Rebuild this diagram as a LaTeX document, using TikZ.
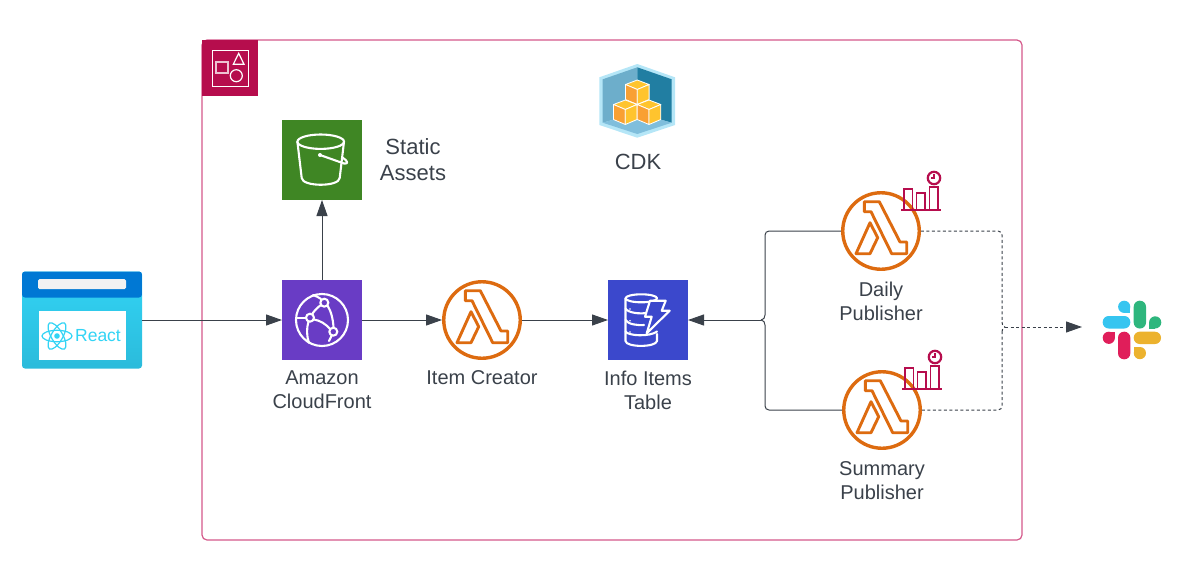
\documentclass[tikz,border=0pt]{standalone}
\usepackage{fontspec}
\setmainfont{Liberation Sans}
\usetikzlibrary{arrows.meta}
\definecolor{textgrey}{HTML}{3A414A}
\definecolor{framepink}{HTML}{D4588A}
\definecolor{tagred}{HTML}{B60D4D}
\definecolor{bucketgreen}{HTML}{3F8624}
\definecolor{frontpurple}{HTML}{693CC5}
\definecolor{tableblue}{HTML}{3B48CC}
\definecolor{lambdaorange}{HTML}{DD6B10}
\definecolor{reactblue}{HTML}{0078D4}
\definecolor{reactcyan}{HTML}{32D4F5}
\definecolor{reactdark}{HTML}{2BBBDB}
\definecolor{cubeyellow}{HTML}{FFC42E}
\definecolor{cubeorange}{HTML}{F9A033}
\definecolor{cdkedge}{HTML}{B5E6F7}
\definecolor{cdkleft}{HTML}{6DAECB}
\definecolor{cdkright}{HTML}{217EA2}
\definecolor{cdkfloor}{HTML}{7FBEDC}
\definecolor{slackblue}{HTML}{36C5F0}
\definecolor{slackgreen}{HTML}{2EB67D}
\definecolor{slackyellow}{HTML}{ECB22E}
\definecolor{slackred}{HTML}{E01E5A}
\tikzstyle{aws box}=[
    inner sep = 0pt,
    outer sep = 0pt,
    minimum size = 80pt
]
\tikzstyle{orange state}=[
    draw = lambdaorange,
    line width = 3.4pt,
    fill = white,
    inner sep = 0pt,
    minimum size = 76.5pt,
    circle
]
\tikzstyle{main text}=[
    text = textgrey,
    align = center,
    font = \fontsize{20}{24}\selectfont
]
\tikzstyle{big text}=[
    text = textgrey,
    align = center,
    font = \fontsize{22}{26}\selectfont
]
\tikzstyle{flow}=[
    draw = textgrey,
    line width = 1pt
]
\tikzstyle{flow tip}=[
    -{Triangle[length=16pt,width=11pt]}
]
\tikzstyle{dotted flow}=[
    draw = textgrey,
    line width = 1pt,
    dash pattern = on 3pt off 2.5pt
]
\tikzstyle{icon line}=[
    draw = white,
    line width = 2.1pt,
    line join = round,
    line cap = round
]
\tikzstyle{schedule line}=[
    draw = tagred,
    line width = 1.8pt
]
% lambda glyph, centred on a node
\newcommand{\lambdaicon}[1]{
    \begin{scope}[shift={(#1.center)}, draw=lambdaorange, line width=2.9pt, line join=round]
        \draw (-16.7,-29.3) -- (-1.7,-29.3) -- (19,11) -- (25.7,11) -- (25.7,22.7) -- (10.7,22.7) -- (-10,-19.3) -- (-16.7,-19.3) -- cycle;
        \draw (-11,-8.3) -- (-25,22.7) -- (-11,22.7) -- (-3.3,6.7) -- cycle;
    \end{scope}
}
% chart with clock, the origin is the left end of its base line
\newcommand{\scheduleicon}[2]{
    \begin{scope}[shift={(#1,#2)}]
        \draw[schedule line, line width=2.2pt] (0,0) -- (40,0);
        \draw[schedule line] (3,0) rectangle (11.5,-21);
        \draw[schedule line] (15.5,0) rectangle (24,-17);
        \draw[schedule line] (28.5,0) rectangle (37,-23);
        \draw[schedule line, line width=2.2pt] (33,-32) circle (6.2pt);
        \draw[schedule line, line width=1.3pt] (33,-36) -- (33,-32) -- (29.5,-32);
    \end{scope}
}
% one yellow block of the stack, the origin is its top corner
\newcommand{\cdkcube}[2]{
    \begin{scope}[shift={(#1,#2)}, draw=white, line width=.8pt, line join=round]
        \filldraw[fill=cubeyellow] (0,0) -- (11.8,4.5) -- (0,9.5) -- (-11.8,4.5) -- cycle;
        \filldraw[fill=cubeorange] (-11.8,4.5) -- (0,9.5) -- (0,24.5) -- (-11.8,19.5) -- cycle;
        \filldraw[fill=cubeyellow] (11.8,4.5) -- (0,9.5) -- (0,24.5) -- (11.8,19.5) -- cycle;
    \end{scope}
}

\begin{document}
\begin{tikzpicture}[x=1pt, y=-1pt, node distance={160pt}]
        \useasboundingbox (0,0) rectangle (1184,573);

        % frame and its tag
        \node[draw=framepink, line width=1.2pt, rounded corners=5pt, inner sep=0pt, outer sep=0pt, minimum width=820pt, minimum height=500pt] (0) at (612,290) {};
        \node[aws box, fill=tagred, minimum size=56pt, anchor=north west] (tag) at (0.north west) {};
        \draw[white, line width=1pt] (212,50) rectangle (248,86);
        \draw[white!75!tagred, line width=1.2pt] (216,62) rectangle (228,73);
        \draw[white, line width=1.2pt] (238.7,53.3) -- (233.3,64.3) -- (244,64.3) -- cycle;
        \draw[white, line width=1.2pt] (236.3,75.7) circle (6pt);

        % browser
        \node[aws box, top color=reactcyan, middle color=reactcyan, bottom color=reactdark, rounded corners=3pt, minimum width=120pt, minimum height=97pt,
            path picture={\fill[reactblue] (path picture bounding box.north west) rectangle ([yshift=-26pt]path picture bounding box.north east);}] (1) at (82,320) {};
        \node[aws box, fill=black!5, rounded corners=1.5pt, minimum width=88pt, minimum height=10pt] (bar) at (82,284) {};
        \node[aws box, fill=white, minimum width=87pt, minimum height=49pt] (page) at (82,335.5) {};
        \node[text=reactcyan, font=\fontsize{17.5}{20}\selectfont, inner sep=0pt] (react) at (98,336) {React};
        \foreach \a in {0,60,120}
            \draw[reactcyan, line width=1.2pt, shift={(57,336)}, rotate=\a] (0,0) ellipse [x radius=15pt, y radius=5.7pt];
        \fill[reactcyan] (57,336) circle (2.8pt);

        % services
        \node[aws box, fill=frontpurple] (2) at (322,320) {};
        \node[aws box, fill=bucketgreen] (3) [above of = 2] {};
        \node[orange state] (4) [right of = 2] {};
        \node[aws box, fill=tableblue] (5) [right of = 4, node distance=166pt] {};
        \node[orange state] (6) at (881,231) {};
        \node[orange state] (7) at (882,410) {};
        \coordinate (8) at (765,320);
        \coordinate (9) at (1002,327);
        \coordinate (10) at (1082,327);

        \node[main text] (21) [below of = 2, node distance=70pt] {Amazon\\CloudFront};
        \node[big text] (22) at (413,160) {Static\\Assets};
        \node[main text] (23) [below of = 4, node distance=58pt] {Item Creator};
        \node[main text] (24) [below of = 5, node distance=70pt] {Info Items\\Table};
        \node[main text] (25) [below of = 6, node distance=70pt] {Daily\\Publisher};
        \node[main text] (26) [below of = 7, node distance=71pt] {Summary\\Publisher};
        \node[big text] (27) at (638,162) {CDK};

        % connectors
        \draw[flow, rounded corners=4pt] (6.west) -| ([yshift=5pt]8);
        \draw[flow] ([yshift=5pt]8) to[out=-90, in=0] ([xshift=-4pt]8);
        \draw[flow, rounded corners=4pt] (7.west) -| ([yshift=-5pt]8);
        \draw[flow] ([yshift=-5pt]8) to[out=90, in=0] ([xshift=-4pt]8);
        \draw[flow, flow tip] (1) -- (2);
        \draw[flow, flow tip] (2) -- (3);
        \draw[flow, flow tip] (2) -- (4);
        \draw[flow, flow tip] (4) -- (5);
        \draw[flow, flow tip] ([xshift=-4pt]8) -- (5);
        \draw[dotted flow, rounded corners=4pt] (6.east) -| ([yshift=5pt]9);
        \draw[dotted flow] ([yshift=5pt]9) to[out=-90, in=180] ([xshift=3pt]9);
        \draw[dotted flow, rounded corners=4pt] (7.east) -| ([yshift=-5pt]9);
        \draw[dotted flow] ([yshift=-5pt]9) to[out=90, in=180] ([xshift=3pt]9);
        \draw[dotted flow, flow tip] ([xshift=3pt]9) -- (10);

        % bucket
        \draw[icon line] (320.7,141.7) ellipse [x radius=23.3pt, y radius=7.2pt];
        \draw[icon line] (297.4,141.7) -- (301.7,178) .. controls (302.5,187) and (339,187) .. (339.7,178) -- (344,141.7);
        \draw[icon line] (320,155) -- (344,163.5) .. controls (349,164.5) and (347.5,160.5) .. (343,158);
        \fill[white] (320,155) circle (2pt);

        % globe
        \draw[icon line] (322,320) circle (26pt);
        \draw[icon line] (312.5,313.5) .. controls (315,310) and (318,307) .. (321,305);
        \draw[icon line] (327.5,305.5) .. controls (331,311) and (333,319) .. (333.5,327);
        \draw[icon line] (314,319.5) .. controls (320,320.5) and (326,324) .. (330,329);
        \draw[icon line] (308.5,321.5) .. controls (306.5,328) and (306.5,336) .. (309,343);
        \draw[icon line] (297,317.7) -- (305.5,317.7);
        \draw[icon line] (313,295) .. controls (316,296) and (318,297) .. (321,299);
        \draw[icon line] (331.5,336) -- (329,341);
        \draw[icon line] (324.3,302.7) circle (4pt);
        \draw[icon line] (310,317.7) circle (4pt);
        \draw[icon line] (333.3,331.7) circle (4pt);

        % table
        \draw[icon line] (641.3,298.3) ellipse [x radius=15.8pt, y radius=4pt];
        \draw[icon line] (625.5,298.3) -- (625.5,341) .. controls (626,347.5) and (656,347.5) .. (657,341) -- (657,334);
        \draw[icon line] (625.5,308.5) .. controls (628,313) and (640,314) .. (646,313);
        \draw[icon line] (625.5,320) .. controls (628,324.5) and (638,325.5) .. (644,325);
        \draw[icon line] (625.5,331.5) .. controls (628,336) and (650,337) .. (657,331.5);
        \filldraw[icon line, fill=tableblue] (650,300.7) -- (665.7,300.7) -- (661.7,310.7) -- (669.7,310.7) -- (646.7,333.3) -- (651.7,316.7) -- (645,316.7) -- cycle;
        \fill[white] (630,309) circle (.9pt);
        \fill[white] (630,320.7) circle (.9pt);
        \fill[white] (630,332) circle (.9pt);

        \lambdaicon{4}
        \lambdaicon{6}
        \lambdaicon{7}
        \scheduleicon{901}{210}
        \scheduleicon{902}{389}

        % cdk
        \fill[cdkedge] (637.3,64) -- (675,77.3) -- (675,125) -- (637.3,137.7) -- (599.3,125) -- (599.3,77.3) -- cycle;
        \fill[cdkleft] (602.7,79.3) -- (637.3,67.3) -- (637.3,113) -- (602.7,122.7) -- cycle;
        \fill[cdkright] (671.7,79.3) -- (637.3,67.3) -- (637.3,113) -- (671.7,122.7) -- cycle;
        \fill[cdkfloor] (602.7,122.7) -- (637.3,113) -- (671.7,122.7) -- (637.3,134) -- cycle;
        \cdkcube{637.3}{80}
        \cdkcube{625.3}{100}
        \cdkcube{649}{100}

        % slack
        \fill[slackblue, rounded corners=6pt] (1102.7,316) rectangle (1130.3,328.5);
        \fill[slackblue] (1124.2,306.8) circle (6.1pt);
        \fill[slackblue] (1124.2,306.8) rectangle (1130.3,313);
        \fill[slackgreen, rounded corners=6pt] (1133.7,300.7) rectangle (1146,328.5);
        \fill[slackgreen] (1155.2,322.4) circle (6.1pt);
        \fill[slackgreen] (1149,322.4) rectangle (1155.2,328.5);
        \fill[slackyellow, rounded corners=6pt] (1133.7,331.7) rectangle (1161,344);
        \fill[slackyellow] (1139.9,353.1) circle (6.1pt);
        \fill[slackyellow] (1133.7,346.8) rectangle (1139.9,353.1);
        \fill[slackred, rounded corners=6pt] (1118,331.7) rectangle (1130.3,359.3);
        \fill[slackred] (1108.8,337.8) circle (6.1pt);
        \fill[slackred] (1108.8,331.7) rectangle (1115,337.8);

    \end{tikzpicture}
\end{document}
